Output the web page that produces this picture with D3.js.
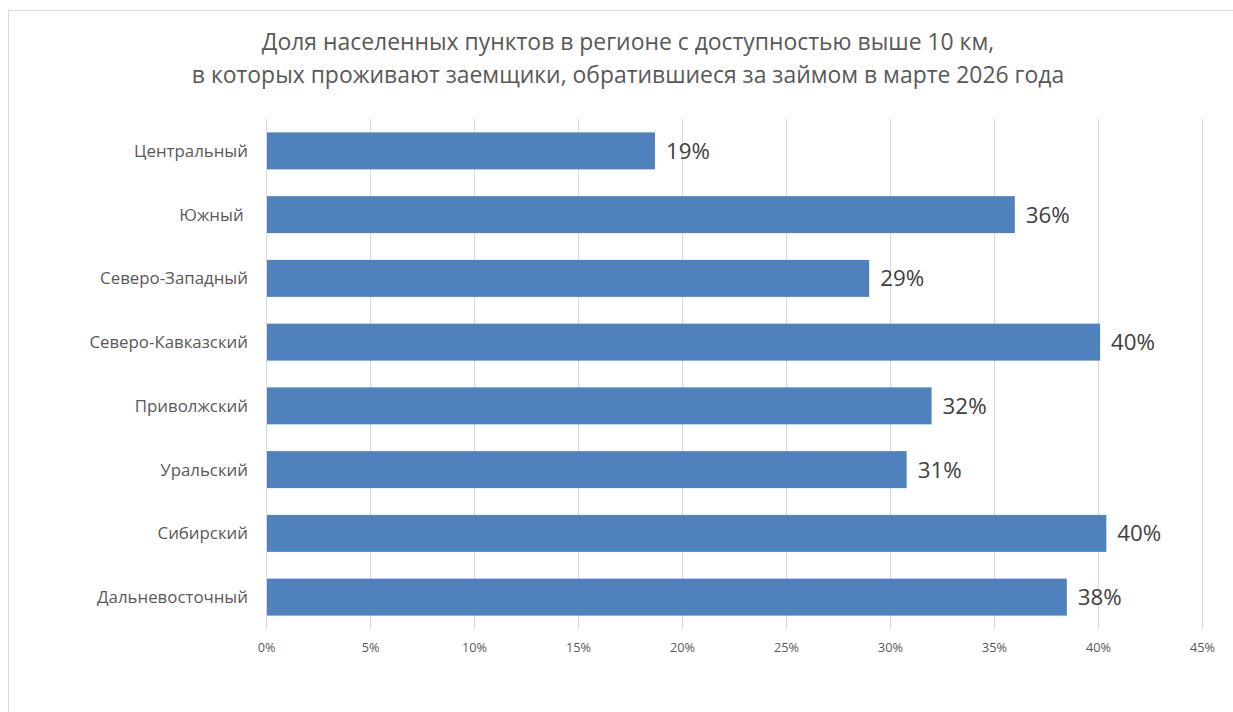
<!DOCTYPE html>
<html><head><meta charset="utf-8">
<script src="https://cdn.jsdelivr.net/npm/d3@7"></script>
<style>
body{margin:0;background:#fff;}
text{font-family:"Open Sans","Noto Sans",sans-serif;white-space:pre;}
</style></head>
<body>
<svg id="chart" width="1233" height="712"></svg>
<script>
const titleLines = ["Доля населенных пунктов в регионе с доступностью выше 10 км,",
                    "в которых проживают заемщики, обратившиеся за займом в марте 2026 года"];
const categories = ["Центральный","Южный ","Северо-Западный","Северо-Кавказский","Приволжский","Уральский","Сибирский","Дальневосточный"];
const values = [0.187, 0.360, 0.290, 0.401, 0.320, 0.308, 0.404, 0.385];
const valueLabels = ["19%","36%","29%","40%","32%","31%","40%","38%"];
const tickValues = [0,0.05,0.10,0.15,0.20,0.25,0.30,0.35,0.40,0.45];

const svg = d3.select("#chart");
// frame (cut off at right and bottom like the reference)
svg.append("rect").attr("x",8.5).attr("y",10.5).attr("width",1240).attr("height",720)
  .attr("fill","#fff").attr("stroke","#d9d9d9").attr("stroke-width",1);

const x = d3.scaleLinear().domain([0,0.45]).range([266,1202]);
const y = d3.scaleBand().domain(categories).range([119,629]).paddingInner(0.42).paddingOuter(0.21);

function fit(sel, target){
  const w = sel.node().getComputedTextLength();
  const fs = parseFloat(sel.attr("font-size"));
  sel.attr("font-size", fs*target/w);
  return fs*target/w;
}

// gridlines
svg.append("g").selectAll("line").data(tickValues).join("line")
  .attr("x1",d=>x(d)+0.5).attr("x2",d=>x(d)+0.5).attr("y1",119).attr("y2",629)
  .attr("stroke","#d9d9d9").attr("stroke-width",1);

// x axis
const xAxis = svg.append("g").attr("transform","translate(0,629)")
  .call(d3.axisBottom(x).tickValues(tickValues).tickFormat(d3.format(".0%")).tickSize(0).tickPadding(14));
xAxis.select(".domain").remove();
xAxis.selectAll("text").attr("fill","#595959").attr("font-size",12)
  .attr("font-family",'"Open Sans",sans-serif');
{
  const t = xAxis.selectAll("text").filter(d=>d===0.10);
  const fs = fit(t, 25);
  xAxis.selectAll("text").attr("font-size",fs);
}

// y axis labels
const yAxis = svg.append("g").attr("transform","translate(266,0)")
  .call(d3.axisLeft(y).tickSize(0).tickPadding(18));
yAxis.select(".domain").remove();
yAxis.selectAll("text").attr("fill","#595959").attr("font-size",16)
  .attr("font-family",'"Open Sans",sans-serif').attr("dy","0.35em");
{
  const t = yAxis.selectAll("text").filter(d=>d==="Центральный");
  const fs = fit(t, 114);
  yAxis.selectAll("text").attr("font-size",fs);
}

// bars
svg.append("g").selectAll("rect").data(categories).join("rect")
  .attr("x",x(0)+1).attr("y",d=>y(d))
  .attr("width",(d,i)=>x(values[i])-x(0)-1).attr("height",y.bandwidth())
  .attr("fill","#4f81bd");

// value labels
const vl = svg.append("g").selectAll("text").data(categories).join("text")
  .attr("x",(d,i)=>x(values[i])+11).attr("y",d=>y(d)+y.bandwidth()/2)
  .attr("dy","0.36em").attr("fill","#404040").attr("font-size",20)
  .text((d,i)=>valueLabels[i]);
{
  const fs = fit(vl.filter((d,i)=>i===0), 44);
  vl.attr("font-size",fs);
}

// title
const tt = svg.append("g").selectAll("text").data(titleLines).join("text")
  .attr("x",628).attr("y",(d,i)=>50+i*33).attr("text-anchor","middle")
  .attr("fill","#595959").attr("font-size",22).text(d=>d);
{
  const fs = fit(tt.filter((d,i)=>i===1), 873);
  tt.attr("font-size",fs);
}
</script>
</body></html>
